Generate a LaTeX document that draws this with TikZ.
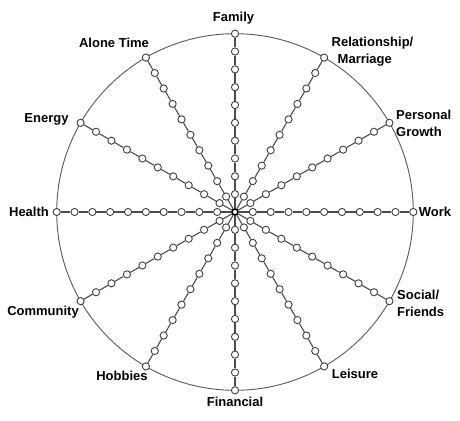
\documentclass[tikz,border=0pt]{standalone}
\usepackage{fontspec}
\setmainfont{Liberation Sans}
\begin{document}
\begin{tikzpicture}[x=1pt,y=-1pt,
  dot/.style={circle,draw=black!75,fill=white,line width=0.9pt,minimum size=7.2pt,inner sep=0pt},
  hub/.style={circle,draw=black,fill=white,line width=1.6pt,minimum size=6pt,inner sep=0pt},
  spoke/.style={draw=black!70,line width=1.1pt},
  rim/.style={draw=black!65,line width=0.9pt},
  lab/.style={font=\bfseries\fontsize{13}{17}\selectfont,inner sep=0pt,text=black}]
\useasboundingbox (0,0) rectangle (460,420);
\def\R{178.3}
\draw[rim] (235,212) circle (\R);
\node[hub] (c) at (235,212) {};
\foreach \i/\a in {0/90,1/60,2/30,3/0,4/-30,5/-60,6/-90,7/-120,8/-150,9/180,10/150,11/120}{
  \foreach \k in {1,...,10}{
    \node[dot] (d\i-\k) at ({235+\k*\R/10*cos(\a)},{212-\k*\R/10*sin(\a)}) {};
  }
  \draw[spoke] (c) -- (d\i-1);
  \foreach \k [evaluate=\k as \n using int(\k+1)] in {1,...,9}{
    \draw[spoke] (d\i-\k) -- (d\i-\n);
  }
}
\node[lab] (family) at (233.5,18) {Family};
\node[lab] (alone) at (114,43) {Alone Time};
\node[lab,anchor=west,align=left] (rel) at (331.5,51.5) {Relationship/\\\hspace*{6pt}Marriage};
\node[lab,anchor=west,align=left] (pers) at (396,123.5) {Personal\\Growth};
\node[lab] (energy) at (46.5,119) {Energy};
\node[lab] (health) at (29,212) {Health};
\node[lab] (work) at (435,212) {Work};
\node[lab] (comm) at (43,312) {Community};
\node[lab,anchor=west,align=left] (social) at (397,303) {Social/\\Friends};
\node[lab] (hobbies) at (122,376) {Hobbies};
\node[lab] (leisure) at (355,374) {Leisure};
\node[lab] (fin) at (235,402) {Financial};
\end{tikzpicture}
\end{document}
